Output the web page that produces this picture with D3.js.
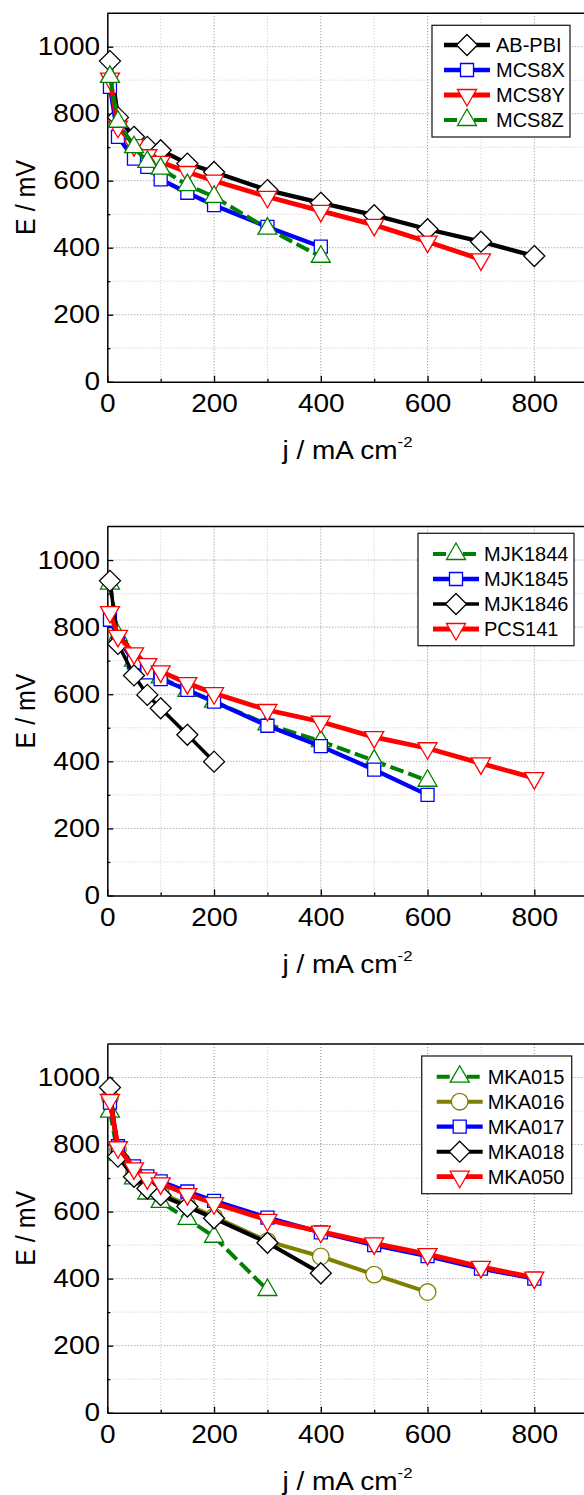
<!DOCTYPE html>
<html>
<head>
<meta charset="utf-8">
<script src="https://cdn.jsdelivr.net/npm/d3@7"></script>
<style>
body { margin: 0; background: #fff; }
svg { display: block; }
text { font-family: "Liberation Sans", Arial, sans-serif; fill: #000; }
</style>
</head>
<body>
<svg id="chart" width="584" height="1495"></svg>
<script>
// current density steps (mA cm-2), every curve uses the first n of them
var jSteps = [5, 20, 50, 75, 100, 150, 200, 300, 400, 500, 600, 700, 800];

// top panel, E in mV
var E_ABPBI = [957, 789, 731, 701, 691, 651, 626, 572, 534, 497, 455, 418, 375];
var E_MCS8X = [880, 731, 666, 641, 604, 564, 527, 462, 403];
var E_MCS8Y = [905, 761, 706, 676, 656, 626, 600, 552, 510, 468, 418, 365];
var E_MCS8Z = [910, 776, 700, 656, 636, 587, 552, 457, 373];

// middle panel
var E_MJK1844 = [930, 775, 700, 668, 650, 610, 578, 510, 460, 402, 342];
var E_MJK1845 = [822, 770, 695, 665, 645, 613, 578, 506, 445, 375, 300];
var E_MJK1846 = [938, 750, 656, 598, 558, 479, 399];
var E_PCS141 = [845, 774, 722, 690, 668, 633, 603, 553, 518, 472, 439, 394, 350];

// bottom panel
var E_MKA015 = [898, 770, 699, 654, 629, 578, 525, 366];
var E_MKA016 = [940, 785, 715, 680, 655, 620, 585, 512, 466, 412, 360];
var E_MKA017 = [925, 795, 735, 705, 690, 660, 632, 582, 538, 500, 467, 430, 400];
var E_MKA018 = [970, 764, 704, 669, 649, 615, 580, 507, 416];
var E_MKA050 = [933, 792, 729, 699, 684, 652, 625, 575, 540, 505, 473, 435, 403];

var xTicks = [0, 200, 400, 600, 800];
var xMinor = [100, 300, 500, 700];
var yTicks = [0, 200, 400, 600, 800, 1000];
var yMinor = [100, 300, 500, 700, 900];

var STRETCH = 1.12; // axis text in the picture is a bit wider than Arial
var GREEN = "#008000", OLIVE = "#808000", BLUE = "#0000ff", RED = "#ff0000";

var svg = d3.select("#chart");
var x = d3.scaleLinear().domain([0, 900]).range([107.3, 587.7]);

var panels = [
    {
        top: 13.2, bottom: 381.7,
        legend: { x: 432, y: 25.3, w: 138, h: 111.7, first: 19.7, line: 12, text: 64 },
        series: [
            { name: "AB-PBI", E: E_ABPBI, color: "#000", marker: "diamond", width: 4.3 },
            { name: "MCS8X", E: E_MCS8X, color: BLUE, marker: "square", width: 4.3 },
            { name: "MCS8Y", E: E_MCS8Y, color: RED, marker: "down", width: 4.8 },
            { name: "MCS8Z", E: E_MCS8Z, color: GREEN, marker: "up", width: 4, dash: "14,5" }
        ]
    },
    {
        top: 526.5, bottom: 895.5,
        legend: { x: 418, y: 533.3, w: 156, h: 112.4, first: 20.7, line: 15, text: 66 },
        series: [
            { name: "MJK1844", E: E_MJK1844, color: GREEN, marker: "up", width: 4, dash: "14,5" },
            { name: "MJK1845", E: E_MJK1845, color: BLUE, marker: "square", width: 4.3 },
            { name: "MJK1846", E: E_MJK1846, color: "#000", marker: "diamond", width: 3.5 },
            { name: "PCS141", E: E_PCS141, color: RED, marker: "down", width: 4.8 }
        ]
    },
    {
        top: 1044, bottom: 1412.7,
        legend: { x: 421.7, y: 1056, w: 150, h: 137.7, first: 20.7, line: 15, text: 66 },
        series: [
            { name: "MKA015", E: E_MKA015, color: GREEN, marker: "up", width: 4, dash: "14,5" },
            { name: "MKA016", E: E_MKA016, color: OLIVE, marker: "circle", width: 4 },
            { name: "MKA017", E: E_MKA017, color: BLUE, marker: "square", width: 4.3 },
            { name: "MKA018", E: E_MKA018, color: "#000", marker: "diamond", width: 4 },
            { name: "MKA050", E: E_MKA050, color: RED, marker: "down", width: 4.8 }
        ]
    }
];

panels.forEach(drawPanel);

function markerPath(type) {
    switch (type) {
        case "diamond": return "M0,-10.5L10.5,0L0,10.5L-10.5,0Z";
        case "square": return "M-6.5,-6.5H6.5V6.5H-6.5Z";
        case "up": return "M0,-11L9.5,5.5L-9.5,5.5Z";
        case "down": return "M0,11L9.5,-5.5L-9.5,-5.5Z";
        case "circle": return "M8.3,0A8.3,8.3 0 1,1 -8.3,0A8.3,8.3 0 1,1 8.3,0Z";
    }
}

function drawPanel(p) {
    var y = d3.scaleLinear().domain([0, 1100]).range([p.bottom, p.top]);
    var g = svg.append("g");
    var x0 = x.range()[0], x1 = x.range()[1];

    // grid
    var grid = g.append("g");
    grid.selectAll(".vmin").data(xMinor).enter().append("line")
        .attr("x1", function (d) { return x(d); }).attr("x2", function (d) { return x(d); })
        .attr("y1", p.top).attr("y2", p.bottom)
        .attr("stroke", "#c8c8c8").attr("stroke-dasharray", "1,2");
    grid.selectAll(".hmin").data(yMinor).enter().append("line")
        .attr("y1", function (d) { return y(d); }).attr("y2", function (d) { return y(d); })
        .attr("x1", x0).attr("x2", x1)
        .attr("stroke", "#c8c8c8").attr("stroke-dasharray", "1,2");
    grid.selectAll(".vmaj").data(xTicks.slice(1)).enter().append("line")
        .attr("x1", function (d) { return x(d); }).attr("x2", function (d) { return x(d); })
        .attr("y1", p.top).attr("y2", p.bottom)
        .attr("stroke", "#8c8c8c").attr("stroke-dasharray", "1,2");
    grid.selectAll(".hmaj").data(yTicks.slice(1)).enter().append("line")
        .attr("y1", function (d) { return y(d); }).attr("y2", function (d) { return y(d); })
        .attr("x1", x0).attr("x2", x1)
        .attr("stroke", "#8c8c8c").attr("stroke-dasharray", "1,2");

    // frame top
    g.append("line").attr("x1", x0).attr("x2", x1).attr("y1", p.top).attr("y2", p.top)
        .attr("stroke", "#000").attr("stroke-width", 1.5);

    // axes
    var fmt = d3.format("d");
    var gx = g.append("g").attr("transform", "translate(0," + p.bottom + ")")
        .call(d3.axisBottom(x).tickValues(xTicks).tickFormat(fmt).tickSizeInner(-6).tickSizeOuter(0).tickPadding(13));
    var gxm = g.append("g").attr("transform", "translate(0," + p.bottom + ")")
        .call(d3.axisBottom(x).tickValues(xMinor).tickSizeInner(-3).tickSizeOuter(0).tickFormat(""));
    var gy = g.append("g").attr("transform", "translate(" + x0 + ",0)")
        .call(d3.axisLeft(y).tickValues(yTicks).tickFormat(fmt).tickSizeInner(-6).tickSizeOuter(0).tickPadding(6.5));
    var gym = g.append("g").attr("transform", "translate(" + x0 + ",0)")
        .call(d3.axisLeft(y).tickValues(yMinor).tickSizeInner(-3).tickSizeOuter(0).tickFormat(""));
    gxm.select(".domain").remove();
    gym.select(".domain").remove();
    [gx, gxm, gy, gym].forEach(function (a) {
        a.attr("font-size", 25);
        a.selectAll("line").attr("stroke", "#000").attr("stroke-width", 1.3);
        a.selectAll(".domain").attr("stroke", "#000").attr("stroke-width", 1.5);
        a.selectAll("text").attr("transform", "scale(" + STRETCH + ",1)");
    });

    // axis titles
    var xt = g.append("text")
        .attr("transform", "translate(" + ((x0 + x1) / 2) + "," + (p.bottom + 77) + ") scale(" + STRETCH + ",1)")
        .attr("text-anchor", "middle").attr("font-size", 25);
    xt.append("tspan").text("j / mA cm");
    xt.append("tspan").attr("dy", -12).attr("font-size", 15).text("-2");

    g.append("text")
        .attr("transform", "translate(35," + ((p.top + p.bottom) / 2) + ") scale(" + STRETCH + ",1) rotate(-90)")
        .attr("text-anchor", "middle").attr("font-size", 25)
        .text("E / mV");

    // curves
    var line = d3.line()
        .x(function (d) { return x(d[0]); })
        .y(function (d) { return y(d[1]); });

    p.series.forEach(function (s) {
        var pts = s.E.map(function (e, i) { return [jSteps[i], e]; });
        var sg = g.append("g");
        sg.append("path").datum(pts)
            .attr("d", line)
            .attr("fill", "none")
            .attr("stroke", s.color)
            .attr("stroke-width", s.width)
            .attr("stroke-dasharray", s.dash || null);
        sg.selectAll(".mk").data(pts).enter().append("path")
            .attr("transform", function (d) { return "translate(" + x(d[0]) + "," + y(d[1]) + ")"; })
            .attr("d", markerPath(s.marker))
            .attr("fill", "#fff")
            .attr("stroke", s.color)
            .attr("stroke-width", 1.3);
    });

    // legend
    var L = p.legend;
    var lg = g.append("g");
    lg.append("rect")
        .attr("x", L.x).attr("y", L.y).attr("width", L.w).attr("height", L.h)
        .attr("fill", "#fff").attr("stroke", "#222").attr("stroke-width", 1.3);
    p.series.forEach(function (s, i) {
        var ly = L.y + L.first + i * 25;
        var lx = L.x + L.line;
        lg.append("line")
            .attr("x1", lx).attr("x2", lx + 46).attr("y1", ly).attr("y2", ly)
            .attr("stroke", s.color).attr("stroke-width", s.width)
            .attr("stroke-dasharray", s.dash ? "13,17,13" : null);
        lg.append("path")
            .attr("transform", "translate(" + (lx + 23) + "," + ly + ")")
            .attr("d", markerPath(s.marker))
            .attr("fill", "#fff").attr("stroke", s.color).attr("stroke-width", 1.3);
        lg.append("text")
            .attr("x", L.x + L.text).attr("y", ly + 7.2)
            .attr("font-size", 20)
            .text(s.name);
    });
}
</script>
</body>
</html>
